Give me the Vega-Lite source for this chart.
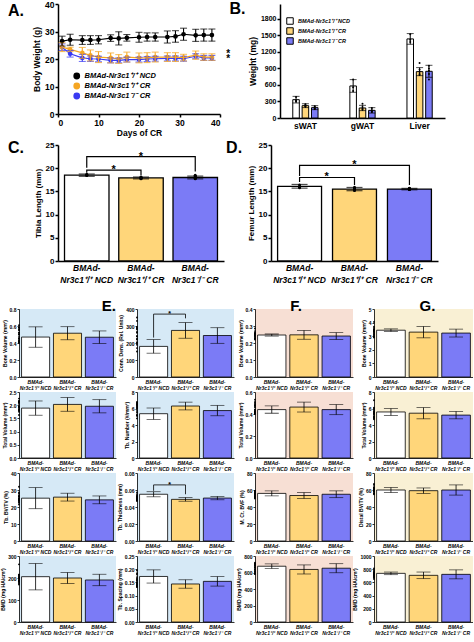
{
"$schema":"https://vega.github.io/schema/vega-lite/v6.json",
"background":"white",
"padding":{"left":0,"top":0,"right":0,"bottom":0},
"config":{
 "font":"Liberation Sans",
 "view":{"stroke":null},
 "axis":{"grid":false,"domainColor":"black","tickColor":"black","labelColor":"black","titleColor":"black","labelFontWeight":"bold","titleFontWeight":"bold","labelFont":"Liberation Sans","titleFont":"Liberation Sans"},
 "axisY":{"labelFontSize":5,"titleFontSize":5,"tickSize":2,"tickWidth":0.8,"domainWidth":0.8,"labelPadding":1,"titlePadding":2,"labelOverlap":false},
 "axisX":{"labelFontSize":5,"labelFontStyle":"italic","ticks":false,"labelAngle":0,"domainWidth":0.8,"labelPadding":2,"labelLineHeight":6},
 "title":{"font":"Liberation Sans","fontWeight":"bold","color":"black"},
 "legend":{"labelFont":"Liberation Sans","labelFontWeight":"bold","labelFontStyle":"italic","labelColor":"black"}
},
"datasets":{
 "wt":[
  {"d":1,"g":"CRko","w":24.3,"e":1.2},{"d":3,"g":"CRko","w":21.9,"e":1.2},{"d":6,"g":"CRko","w":20.4,"e":1.3},{"d":8,"g":"CRko","w":20.1,"e":1.0},{"d":10,"g":"CRko","w":20.0,"e":1.0},{"d":13,"g":"CRko","w":19.5,"e":0.9},{"d":15,"g":"CRko","w":19.5,"e":0.9},{"d":17,"g":"CRko","w":19.8,"e":0.9},{"d":20,"g":"CRko","w":19.8,"e":0.9},{"d":22,"g":"CRko","w":20.0,"e":0.9},{"d":24,"g":"CRko","w":20.1,"e":0.9},{"d":27,"g":"CRko","w":20.2,"e":0.9},{"d":29,"g":"CRko","w":20.2,"e":0.9},{"d":31,"g":"CRko","w":20.1,"e":0.9},{"d":34,"g":"CRko","w":21.0,"e":0.9},{"d":36,"g":"CRko","w":20.4,"e":0.9},{"d":38,"g":"CRko","w":20.4,"e":0.9},
  {"d":1,"g":"CRwt","w":24.3,"e":1.6},{"d":3,"g":"CRwt","w":23.5,"e":0.8},{"d":6,"g":"CRwt","w":22.2,"e":2.0},{"d":8,"g":"CRwt","w":21.3,"e":2.0},{"d":10,"g":"CRwt","w":20.7,"e":2.0},{"d":13,"g":"CRwt","w":20.4,"e":1.8},{"d":15,"g":"CRwt","w":20.0,"e":1.6},{"d":17,"g":"CRwt","w":20.7,"e":1.8},{"d":20,"g":"CRwt","w":20.4,"e":1.8},{"d":22,"g":"CRwt","w":20.5,"e":1.8},{"d":24,"g":"CRwt","w":20.7,"e":1.8},{"d":27,"g":"CRwt","w":20.7,"e":1.6},{"d":29,"g":"CRwt","w":20.7,"e":1.6},{"d":31,"g":"CRwt","w":20.5,"e":1.2},{"d":34,"g":"CRwt","w":21.4,"e":1.5},{"d":36,"g":"CRwt","w":20.7,"e":1.2},{"d":38,"g":"CRwt","w":20.7,"e":1.2},
  {"d":1,"g":"NCD","w":26.5,"e":1.8},{"d":3,"g":"NCD","w":27.0,"e":2.0},{"d":6,"g":"NCD","w":26.9,"e":1.6},{"d":8,"g":"NCD","w":26.9,"e":1.6},{"d":10,"g":"NCD","w":27.0,"e":1.5},{"d":13,"g":"NCD","w":27.6,"e":1.2},{"d":15,"g":"NCD","w":27.5,"e":2.4},{"d":17,"g":"NCD","w":27.7,"e":1.2},{"d":20,"g":"NCD","w":27.9,"e":1.8},{"d":22,"g":"NCD","w":28.0,"e":1.5},{"d":24,"g":"NCD","w":28.0,"e":1.5},{"d":27,"g":"NCD","w":28.0,"e":2.2},{"d":29,"g":"NCD","w":28.2,"e":2.1},{"d":31,"g":"NCD","w":29.0,"e":2.2},{"d":34,"g":"NCD","w":28.6,"e":2.2},{"d":36,"g":"NCD","w":28.7,"e":2.2},{"d":38,"g":"NCD","w":28.7,"e":2.2}
 ],
 "bw":[
  {"t":"sWAT","g":"NCD","v":333,"e":60},{"t":"sWAT","g":"CRwt","v":224,"e":35},{"t":"sWAT","g":"CRko","v":188,"e":36},
  {"t":"gWAT","g":"NCD","v":582,"e":115},{"t":"gWAT","g":"CRwt","v":182,"e":48},{"t":"gWAT","g":"CRko","v":139,"e":49},
  {"t":"Liver","g":"NCD","v":1436,"e":97},{"t":"Liver","g":"CRwt","v":842,"e":73},{"t":"Liver","g":"CRko","v":848,"e":109}
 ],
 "bwp":[
  {"t":"sWAT","g":"NCD","v":380},{"t":"sWAT","g":"NCD","v":320},{"t":"sWAT","g":"NCD","v":300},
  {"t":"sWAT","g":"CRwt","v":250},{"t":"sWAT","g":"CRwt","v":230},{"t":"sWAT","g":"CRwt","v":215},{"t":"sWAT","g":"CRwt","v":205},
  {"t":"sWAT","g":"CRko","v":215},{"t":"sWAT","g":"CRko","v":195},{"t":"sWAT","g":"CRko","v":170},{"t":"sWAT","g":"CRko","v":165},
  {"t":"gWAT","g":"NCD","v":700},{"t":"gWAT","g":"NCD","v":560},{"t":"gWAT","g":"NCD","v":490},
  {"t":"gWAT","g":"CRwt","v":260},{"t":"gWAT","g":"CRwt","v":200},{"t":"gWAT","g":"CRwt","v":170},{"t":"gWAT","g":"CRwt","v":150},
  {"t":"gWAT","g":"CRko","v":180},{"t":"gWAT","g":"CRko","v":140},{"t":"gWAT","g":"CRko","v":120},{"t":"gWAT","g":"CRko","v":110},
  {"t":"Liver","g":"NCD","v":1520},{"t":"Liver","g":"NCD","v":1420},{"t":"Liver","g":"NCD","v":1380},
  {"t":"Liver","g":"CRwt","v":1000},{"t":"Liver","g":"CRwt","v":880},{"t":"Liver","g":"CRwt","v":840},{"t":"Liver","g":"CRwt","v":800},{"t":"Liver","g":"CRwt","v":780},
  {"t":"Liver","g":"CRko","v":950},{"t":"Liver","g":"CRko","v":900},{"t":"Liver","g":"CRko","v":860},{"t":"Liver","g":"CRko","v":800},{"t":"Liver","g":"CRko","v":700}
 ],
 "bars":[
  {"p":"C","g":"NCD","v":18.5,"e":0.25},{"p":"C","g":"CRwt","v":17.9,"e":0.2},{"p":"C","g":"CRko","v":18.0,"e":0.3},
  {"p":"D","g":"NCD","v":16.1,"e":0.4},{"p":"D","g":"CRwt","v":15.5,"e":0.35},{"p":"D","g":"CRko","v":15.5,"e":0.15},
  {"p":"e1a","g":"NCD","v":0.47,"e":0.12},{"p":"e1a","g":"CRwt","v":0.515,"e":0.077},{"p":"e1a","g":"CRko","v":0.468,"e":0.074},
  {"p":"e2a","g":"NCD","v":180,"e":40},{"p":"e2a","g":"CRwt","v":274,"e":46},{"p":"e2a","g":"CRko","v":244,"e":46},
  {"p":"e1b","g":"NCD","v":1.89,"e":0.27},{"p":"e1b","g":"CRwt","v":2.03,"e":0.26},{"p":"e1b","g":"CRko","v":1.96,"e":0.25},
  {"p":"e2b","g":"NCD","v":5.37,"e":0.69},{"p":"e2b","g":"CRwt","v":6.3,"e":0.47},{"p":"e2b","g":"CRko","v":5.75,"e":0.63},
  {"p":"e1c","g":"NCD","v":25.2,"e":6.2},{"p":"e1c","g":"CRwt","v":25.8,"e":2.3},{"p":"e1c","g":"CRko","v":24.2,"e":2.3},
  {"p":"e2c","g":"NCD","v":0.055,"e":0.003},{"p":"e2c","g":"CRwt","v":0.049,"e":0.0022},{"p":"e2c","g":"CRko","v":0.0505,"e":0.002},
  {"p":"e1d","g":"NCD","v":206,"e":60},{"p":"e1d","g":"CRwt","v":200,"e":25},{"p":"e1d","g":"CRko","v":191,"e":26},
  {"p":"e2d","g":"NCD","v":0.1725,"e":0.025},{"p":"e2d","g":"CRwt","v":0.144,"e":0.016},{"p":"e2d","g":"CRko","v":0.154,"e":0.018},
  {"p":"fa","g":"NCD","v":0.247,"e":0.006},{"p":"fa","g":"CRwt","v":0.248,"e":0.026},{"p":"fa","g":"CRko","v":0.241,"e":0.02},
  {"p":"fb","g":"NCD","v":0.44,"e":0.033},{"p":"fb","g":"CRwt","v":0.463,"e":0.045},{"p":"fb","g":"CRko","v":0.44,"e":0.046},
  {"p":"fc","g":"NCD","v":56,"e":3},{"p":"fc","g":"CRwt","v":53.5,"e":3.5},{"p":"fc","g":"CRko","v":55,"e":4},
  {"p":"fd","g":"NCD","v":676,"e":28},{"p":"fd","g":"CRwt","v":637,"e":55},{"p":"fd","g":"CRko","v":652,"e":55},
  {"p":"ga","g":"NCD","v":3.44,"e":0.1},{"p":"ga","g":"CRwt","v":3.3,"e":0.42},{"p":"ga","g":"CRko","v":3.23,"e":0.29},
  {"p":"gb","g":"NCD","v":5.58,"e":0.42},{"p":"gb","g":"CRwt","v":5.43,"e":0.68},{"p":"gb","g":"CRko","v":5.2,"e":0.45},
  {"p":"gc","g":"NCD","v":60,"e":3},{"p":"gc","g":"CRwt","v":59.2,"e":3.2},{"p":"gc","g":"CRko","v":60,"e":6},
  {"p":"gd","g":"NCD","v":737,"e":20},{"p":"gd","g":"CRwt","v":707,"e":50},{"p":"gd","g":"CRko","v":722,"e":68}
 ],
 "pts":[
  {"p":"C","g":"NCD","r":3,"v":18.7},{"p":"C","g":"NCD","r":4,"v":18.5},{"p":"C","g":"NCD","r":5,"v":18.4},
  {"p":"C","g":"CRwt","r":1,"v":17.8},{"p":"C","g":"CRwt","r":2,"v":18.0},{"p":"C","g":"CRwt","r":3,"v":17.9},{"p":"C","g":"CRwt","r":4,"v":18.1},{"p":"C","g":"CRwt","r":5,"v":17.7},{"p":"C","g":"CRwt","r":6,"v":17.9},{"p":"C","g":"CRwt","r":7,"v":18.0},
  {"p":"C","g":"CRko","r":1,"v":18.5},{"p":"C","g":"CRko","r":2,"v":18.2},{"p":"C","g":"CRko","r":3,"v":17.9},{"p":"C","g":"CRko","r":4,"v":17.7},{"p":"C","g":"CRko","r":5,"v":18.0},{"p":"C","g":"CRko","r":6,"v":18.3},{"p":"C","g":"CRko","r":7,"v":17.8},
  {"p":"D","g":"NCD","r":3,"v":16.4},{"p":"D","g":"NCD","r":4,"v":16.0},{"p":"D","g":"NCD","r":5,"v":15.8},
  {"p":"D","g":"CRwt","r":1,"v":15.9},{"p":"D","g":"CRwt","r":2,"v":15.6},{"p":"D","g":"CRwt","r":3,"v":15.4},{"p":"D","g":"CRwt","r":4,"v":15.2},{"p":"D","g":"CRwt","r":5,"v":15.5},{"p":"D","g":"CRwt","r":6,"v":15.7},{"p":"D","g":"CRwt","r":7,"v":15.3},
  {"p":"D","g":"CRko","r":1,"v":15.6},{"p":"D","g":"CRko","r":2,"v":15.5},{"p":"D","g":"CRko","r":3,"v":15.4},{"p":"D","g":"CRko","r":4,"v":15.6},{"p":"D","g":"CRko","r":5,"v":15.5},{"p":"D","g":"CRko","r":6,"v":15.4},{"p":"D","g":"CRko","r":7,"v":15.7},
  {"p":"e1a","g":"NCD","r":2,"v":0.61},{"p":"e1a","g":"NCD","r":4,"v":0.47},{"p":"e1a","g":"NCD","r":6,"v":0.40},
  {"p":"e1a","g":"CRwt","r":1,"v":0.58},{"p":"e1a","g":"CRwt","r":2,"v":0.56},{"p":"e1a","g":"CRwt","r":3,"v":0.52},{"p":"e1a","g":"CRwt","r":4,"v":0.50},{"p":"e1a","g":"CRwt","r":5,"v":0.45},{"p":"e1a","g":"CRwt","r":6,"v":0.42},{"p":"e1a","g":"CRwt","r":7,"v":0.55},
  {"p":"e1a","g":"CRko","r":1,"v":0.58},{"p":"e1a","g":"CRko","r":2,"v":0.52},{"p":"e1a","g":"CRko","r":3,"v":0.45},{"p":"e1a","g":"CRko","r":4,"v":0.42},{"p":"e1a","g":"CRko","r":5,"v":0.41},{"p":"e1a","g":"CRko","r":6,"v":0.43},{"p":"e1a","g":"CRko","r":7,"v":0.50},
  {"p":"e2a","g":"NCD","r":2,"v":220},{"p":"e2a","g":"NCD","r":4,"v":150},{"p":"e2a","g":"NCD","r":6,"v":170},
  {"p":"e2a","g":"CRwt","r":1,"v":350},{"p":"e2a","g":"CRwt","r":2,"v":295},{"p":"e2a","g":"CRwt","r":3,"v":285},{"p":"e2a","g":"CRwt","r":4,"v":265},{"p":"e2a","g":"CRwt","r":5,"v":240},{"p":"e2a","g":"CRwt","r":6,"v":190},{"p":"e2a","g":"CRwt","r":7,"v":290},
  {"p":"e2a","g":"CRko","r":1,"v":330},{"p":"e2a","g":"CRko","r":2,"v":280},{"p":"e2a","g":"CRko","r":3,"v":260},{"p":"e2a","g":"CRko","r":4,"v":240},{"p":"e2a","g":"CRko","r":5,"v":225},{"p":"e2a","g":"CRko","r":6,"v":205},{"p":"e2a","g":"CRko","r":7,"v":200},
  {"p":"e1b","g":"NCD","r":2,"v":2.12},{"p":"e1b","g":"NCD","r":4,"v":1.90},{"p":"e1b","g":"NCD","r":6,"v":1.63},
  {"p":"e1b","g":"CRwt","r":1,"v":2.25},{"p":"e1b","g":"CRwt","r":2,"v":2.15},{"p":"e1b","g":"CRwt","r":3,"v":2.05},{"p":"e1b","g":"CRwt","r":4,"v":1.95},{"p":"e1b","g":"CRwt","r":5,"v":1.90},{"p":"e1b","g":"CRwt","r":6,"v":1.80},{"p":"e1b","g":"CRwt","r":7,"v":2.10},
  {"p":"e1b","g":"CRko","r":1,"v":2.15},{"p":"e1b","g":"CRko","r":2,"v":2.15},{"p":"e1b","g":"CRko","r":3,"v":2.10},{"p":"e1b","g":"CRko","r":4,"v":1.95},{"p":"e1b","g":"CRko","r":5,"v":1.85},{"p":"e1b","g":"CRko","r":6,"v":1.75},{"p":"e1b","g":"CRko","r":7,"v":1.82},
  {"p":"e2b","g":"NCD","r":2,"v":6.1},{"p":"e2b","g":"NCD","r":4,"v":5.2},{"p":"e2b","g":"NCD","r":6,"v":4.8},
  {"p":"e2b","g":"CRwt","r":1,"v":6.8},{"p":"e2b","g":"CRwt","r":2,"v":6.7},{"p":"e2b","g":"CRwt","r":3,"v":6.6},{"p":"e2b","g":"CRwt","r":4,"v":6.5},{"p":"e2b","g":"CRwt","r":5,"v":6.3},{"p":"e2b","g":"CRwt","r":6,"v":6.2},{"p":"e2b","g":"CRwt","r":7,"v":5.2},
  {"p":"e2b","g":"CRko","r":1,"v":6.5},{"p":"e2b","g":"CRko","r":2,"v":6.4},{"p":"e2b","g":"CRko","r":3,"v":6.0},{"p":"e2b","g":"CRko","r":4,"v":5.7},{"p":"e2b","g":"CRko","r":5,"v":5.5},{"p":"e2b","g":"CRko","r":6,"v":5.2},{"p":"e2b","g":"CRko","r":7,"v":5.1},
  {"p":"e1c","g":"NCD","r":2,"v":31.9},{"p":"e1c","g":"NCD","r":4,"v":24.5},{"p":"e1c","g":"NCD","r":6,"v":21.5},
  {"p":"e1c","g":"CRwt","r":1,"v":28.5},{"p":"e1c","g":"CRwt","r":2,"v":28},{"p":"e1c","g":"CRwt","r":3,"v":27},{"p":"e1c","g":"CRwt","r":4,"v":26},{"p":"e1c","g":"CRwt","r":5,"v":25},{"p":"e1c","g":"CRwt","r":6,"v":24},{"p":"e1c","g":"CRwt","r":7,"v":23.5},
  {"p":"e1c","g":"CRko","r":1,"v":26.5},{"p":"e1c","g":"CRko","r":2,"v":26},{"p":"e1c","g":"CRko","r":3,"v":25},{"p":"e1c","g":"CRko","r":4,"v":24.5},{"p":"e1c","g":"CRko","r":5,"v":24},{"p":"e1c","g":"CRko","r":6,"v":23},{"p":"e1c","g":"CRko","r":7,"v":22.5},
  {"p":"e2c","g":"NCD","r":2,"v":0.057},{"p":"e2c","g":"NCD","r":4,"v":0.055},{"p":"e2c","g":"NCD","r":6,"v":0.053},
  {"p":"e2c","g":"CRwt","r":1,"v":0.052},{"p":"e2c","g":"CRwt","r":2,"v":0.051},{"p":"e2c","g":"CRwt","r":3,"v":0.050},{"p":"e2c","g":"CRwt","r":4,"v":0.049},{"p":"e2c","g":"CRwt","r":5,"v":0.048},{"p":"e2c","g":"CRwt","r":6,"v":0.047},{"p":"e2c","g":"CRwt","r":7,"v":0.050},
  {"p":"e2c","g":"CRko","r":1,"v":0.053},{"p":"e2c","g":"CRko","r":2,"v":0.052},{"p":"e2c","g":"CRko","r":3,"v":0.051},{"p":"e2c","g":"CRko","r":4,"v":0.050},{"p":"e2c","g":"CRko","r":5,"v":0.049},{"p":"e2c","g":"CRko","r":6,"v":0.052},{"p":"e2c","g":"CRko","r":7,"v":0.048},
  {"p":"e1d","g":"NCD","r":2,"v":262},{"p":"e1d","g":"NCD","r":4,"v":185},{"p":"e1d","g":"NCD","r":6,"v":175},
  {"p":"e1d","g":"CRwt","r":1,"v":215},{"p":"e1d","g":"CRwt","r":2,"v":210},{"p":"e1d","g":"CRwt","r":3,"v":205},{"p":"e1d","g":"CRwt","r":4,"v":200},{"p":"e1d","g":"CRwt","r":5,"v":195},{"p":"e1d","g":"CRwt","r":6,"v":190},{"p":"e1d","g":"CRwt","r":7,"v":185},
  {"p":"e1d","g":"CRko","r":1,"v":215},{"p":"e1d","g":"CRko","r":2,"v":205},{"p":"e1d","g":"CRko","r":3,"v":200},{"p":"e1d","g":"CRko","r":4,"v":190},{"p":"e1d","g":"CRko","r":5,"v":185},{"p":"e1d","g":"CRko","r":6,"v":180},{"p":"e1d","g":"CRko","r":7,"v":170},
  {"p":"e2d","g":"NCD","r":2,"v":0.195},{"p":"e2d","g":"NCD","r":4,"v":0.165},{"p":"e2d","g":"NCD","r":6,"v":0.158},
  {"p":"e2d","g":"CRwt","r":1,"v":0.18},{"p":"e2d","g":"CRwt","r":2,"v":0.155},{"p":"e2d","g":"CRwt","r":3,"v":0.148},{"p":"e2d","g":"CRwt","r":4,"v":0.142},{"p":"e2d","g":"CRwt","r":5,"v":0.138},{"p":"e2d","g":"CRwt","r":6,"v":0.135},{"p":"e2d","g":"CRwt","r":7,"v":0.132},
  {"p":"e2d","g":"CRko","r":1,"v":0.185},{"p":"e2d","g":"CRko","r":2,"v":0.17},{"p":"e2d","g":"CRko","r":3,"v":0.16},{"p":"e2d","g":"CRko","r":4,"v":0.15},{"p":"e2d","g":"CRko","r":5,"v":0.145},{"p":"e2d","g":"CRko","r":6,"v":0.14},{"p":"e2d","g":"CRko","r":7,"v":0.135},
  {"p":"fa","g":"NCD","r":2,"v":0.252},{"p":"fa","g":"NCD","r":4,"v":0.248},{"p":"fa","g":"NCD","r":6,"v":0.244},
  {"p":"fa","g":"CRwt","r":1,"v":0.285},{"p":"fa","g":"CRwt","r":2,"v":0.27},{"p":"fa","g":"CRwt","r":3,"v":0.255},{"p":"fa","g":"CRwt","r":4,"v":0.25},{"p":"fa","g":"CRwt","r":5,"v":0.24},{"p":"fa","g":"CRwt","r":6,"v":0.23},{"p":"fa","g":"CRwt","r":7,"v":0.225},
  {"p":"fa","g":"CRko","r":1,"v":0.26},{"p":"fa","g":"CRko","r":2,"v":0.258},{"p":"fa","g":"CRko","r":3,"v":0.25},{"p":"fa","g":"CRko","r":4,"v":0.245},{"p":"fa","g":"CRko","r":5,"v":0.235},{"p":"fa","g":"CRko","r":6,"v":0.225},{"p":"fa","g":"CRko","r":7,"v":0.22},
  {"p":"fb","g":"NCD","r":2,"v":0.48},{"p":"fb","g":"NCD","r":4,"v":0.43},{"p":"fb","g":"NCD","r":6,"v":0.41},
  {"p":"fb","g":"CRwt","r":1,"v":0.53},{"p":"fb","g":"CRwt","r":2,"v":0.51},{"p":"fb","g":"CRwt","r":3,"v":0.49},{"p":"fb","g":"CRwt","r":4,"v":0.47},{"p":"fb","g":"CRwt","r":5,"v":0.44},{"p":"fb","g":"CRwt","r":6,"v":0.42},{"p":"fb","g":"CRwt","r":7,"v":0.41},
  {"p":"fb","g":"CRko","r":1,"v":0.50},{"p":"fb","g":"CRko","r":2,"v":0.48},{"p":"fb","g":"CRko","r":3,"v":0.46},{"p":"fb","g":"CRko","r":4,"v":0.44},{"p":"fb","g":"CRko","r":5,"v":0.42},{"p":"fb","g":"CRko","r":6,"v":0.41},{"p":"fb","g":"CRko","r":7,"v":0.40},
  {"p":"fc","g":"NCD","r":2,"v":59},{"p":"fc","g":"NCD","r":4,"v":56},{"p":"fc","g":"NCD","r":6,"v":54},
  {"p":"fc","g":"CRwt","r":1,"v":57},{"p":"fc","g":"CRwt","r":2,"v":56},{"p":"fc","g":"CRwt","r":3,"v":55},{"p":"fc","g":"CRwt","r":4,"v":53},{"p":"fc","g":"CRwt","r":5,"v":52},{"p":"fc","g":"CRwt","r":6,"v":51},{"p":"fc","g":"CRwt","r":7,"v":50},
  {"p":"fc","g":"CRko","r":1,"v":59},{"p":"fc","g":"CRko","r":2,"v":58},{"p":"fc","g":"CRko","r":3,"v":57},{"p":"fc","g":"CRko","r":4,"v":55},{"p":"fc","g":"CRko","r":5,"v":53},{"p":"fc","g":"CRko","r":6,"v":52},{"p":"fc","g":"CRko","r":7,"v":51},
  {"p":"fd","g":"NCD","r":2,"v":710},{"p":"fd","g":"NCD","r":4,"v":680},{"p":"fd","g":"NCD","r":6,"v":665},
  {"p":"fd","g":"CRwt","r":1,"v":700},{"p":"fd","g":"CRwt","r":2,"v":690},{"p":"fd","g":"CRwt","r":3,"v":660},{"p":"fd","g":"CRwt","r":4,"v":640},{"p":"fd","g":"CRwt","r":5,"v":620},{"p":"fd","g":"CRwt","r":6,"v":600},{"p":"fd","g":"CRwt","r":7,"v":580},
  {"p":"fd","g":"CRko","r":1,"v":720},{"p":"fd","g":"CRko","r":2,"v":705},{"p":"fd","g":"CRko","r":3,"v":685},{"p":"fd","g":"CRko","r":4,"v":660},{"p":"fd","g":"CRko","r":5,"v":640},{"p":"fd","g":"CRko","r":6,"v":615},{"p":"fd","g":"CRko","r":7,"v":590},
  {"p":"ga","g":"NCD","r":2,"v":3.5},{"p":"ga","g":"NCD","r":4,"v":3.45},{"p":"ga","g":"NCD","r":6,"v":3.4},
  {"p":"ga","g":"CRwt","r":1,"v":4.05},{"p":"ga","g":"CRwt","r":2,"v":3.6},{"p":"ga","g":"CRwt","r":3,"v":3.35},{"p":"ga","g":"CRwt","r":4,"v":3.2},{"p":"ga","g":"CRwt","r":5,"v":3.1},{"p":"ga","g":"CRwt","r":6,"v":3.0},{"p":"ga","g":"CRwt","r":7,"v":2.9},
  {"p":"ga","g":"CRko","r":1,"v":3.7},{"p":"ga","g":"CRko","r":2,"v":3.5},{"p":"ga","g":"CRko","r":3,"v":3.35},{"p":"ga","g":"CRko","r":4,"v":3.25},{"p":"ga","g":"CRko","r":5,"v":3.1},{"p":"ga","g":"CRko","r":6,"v":3.0},{"p":"ga","g":"CRko","r":7,"v":2.95},
  {"p":"gb","g":"NCD","r":2,"v":6.1},{"p":"gb","g":"NCD","r":4,"v":5.5},{"p":"gb","g":"NCD","r":6,"v":5.4},
  {"p":"gb","g":"CRwt","r":1,"v":7.0},{"p":"gb","g":"CRwt","r":2,"v":6.0},{"p":"gb","g":"CRwt","r":3,"v":5.6},{"p":"gb","g":"CRwt","r":4,"v":5.3},{"p":"gb","g":"CRwt","r":5,"v":5.0},{"p":"gb","g":"CRwt","r":6,"v":4.9},{"p":"gb","g":"CRwt","r":7,"v":4.8},
  {"p":"gb","g":"CRko","r":1,"v":5.8},{"p":"gb","g":"CRko","r":2,"v":5.6},{"p":"gb","g":"CRko","r":3,"v":5.4},{"p":"gb","g":"CRko","r":4,"v":5.2},{"p":"gb","g":"CRko","r":5,"v":5.0},{"p":"gb","g":"CRko","r":6,"v":4.9},{"p":"gb","g":"CRko","r":7,"v":4.7},
  {"p":"gc","g":"NCD","r":2,"v":63},{"p":"gc","g":"NCD","r":4,"v":61},{"p":"gc","g":"NCD","r":6,"v":59},
  {"p":"gc","g":"CRwt","r":1,"v":63},{"p":"gc","g":"CRwt","r":2,"v":62},{"p":"gc","g":"CRwt","r":3,"v":61},{"p":"gc","g":"CRwt","r":4,"v":60},{"p":"gc","g":"CRwt","r":5,"v":59},{"p":"gc","g":"CRwt","r":6,"v":58},{"p":"gc","g":"CRwt","r":7,"v":56},
  {"p":"gc","g":"CRko","r":1,"v":67},{"p":"gc","g":"CRko","r":2,"v":66},{"p":"gc","g":"CRko","r":3,"v":63},{"p":"gc","g":"CRko","r":4,"v":60},{"p":"gc","g":"CRko","r":5,"v":58},{"p":"gc","g":"CRko","r":6,"v":56},{"p":"gc","g":"CRko","r":7,"v":55},
  {"p":"gd","g":"NCD","r":2,"v":755},{"p":"gd","g":"NCD","r":4,"v":740},{"p":"gd","g":"NCD","r":6,"v":730},
  {"p":"gd","g":"CRwt","r":1,"v":760},{"p":"gd","g":"CRwt","r":2,"v":750},{"p":"gd","g":"CRwt","r":3,"v":720},{"p":"gd","g":"CRwt","r":4,"v":700},{"p":"gd","g":"CRwt","r":5,"v":690},{"p":"gd","g":"CRwt","r":6,"v":680},{"p":"gd","g":"CRwt","r":7,"v":665},
  {"p":"gd","g":"CRko","r":1,"v":810},{"p":"gd","g":"CRko","r":2,"v":780},{"p":"gd","g":"CRko","r":3,"v":745},{"p":"gd","g":"CRko","r":4,"v":720},{"p":"gd","g":"CRko","r":5,"v":700},{"p":"gd","g":"CRko","r":6,"v":680},{"p":"gd","g":"CRko","r":7,"v":650}
 ],
 "br":[
  {"p":"C","k":"Cl","o":1,"g":"NCD","v":20.1},{"p":"C","k":"Cl","o":2,"g":"NCD","v":22.5},{"p":"C","k":"Cl","o":3,"g":"CRko","v":22.5},{"p":"C","k":"Cl","o":4,"g":"CRko","v":19.3},
  {"p":"C","k":"Cs","o":1,"g":"NCD","v":19.0},{"p":"C","k":"Cs","o":2,"g":"NCD","v":19.6},{"p":"C","k":"Cs","o":3,"g":"CRwt","v":19.6},{"p":"C","k":"Cs","o":4,"g":"CRwt","v":18.5},
  {"p":"D","k":"Dl","o":1,"g":"NCD","v":18.3},{"p":"D","k":"Dl","o":2,"g":"NCD","v":20.6},{"p":"D","k":"Dl","o":3,"g":"CRko","v":20.6},{"p":"D","k":"Dl","o":4,"g":"CRko","v":16.4},
  {"p":"D","k":"Ds","o":1,"g":"NCD","v":17.0},{"p":"D","k":"Ds","o":2,"g":"NCD","v":18.0},{"p":"D","k":"Ds","o":3,"g":"CRwt","v":18.0},{"p":"D","k":"Ds","o":4,"g":"CRwt","v":16.4},
  {"p":"e2a","k":"a","o":1,"g":"NCD","v":232},{"p":"e2a","k":"a","o":2,"g":"NCD","v":370},{"p":"e2a","k":"a","o":3,"g":"CRwt","v":370},{"p":"e2a","k":"a","o":4,"g":"CRwt","v":345},
  {"p":"e2c","k":"c","o":1,"g":"NCD","v":0.059},{"p":"e2c","k":"c","o":2,"g":"NCD","v":0.066},{"p":"e2c","k":"c","o":3,"g":"CRwt","v":0.066},{"p":"e2c","k":"c","o":4,"g":"CRwt","v":0.055}
 ],
 "st":[
  {"p":"C","k":"s","g":"NCD","v":19.6},{"p":"C","k":"l","g":"CRwt","v":22.5},
  {"p":"D","k":"s","g":"NCD","v":18.0},{"p":"D","k":"l","g":"CRwt","v":20.6},
  {"p":"e2a","k":"s","g":"NCD","v":370},{"p":"e2c","k":"s","g":"NCD","v":0.066}
 ]
},
"resolve":{"scale":{"color":"independent","fill":"independent"},"legend":{"color":"independent","fill":"independent"}},
"vconcat":[
 {"resolve":{"scale":{"color":"independent","fill":"independent"},"legend":{"color":"independent","fill":"independent"}},
  "vconcat":[
  {"resolve":{"scale":{"color":"independent","fill":"independent"},"legend":{"color":"independent","fill":"independent"}},
   "hconcat":[
   {"width":201,"height":110,
    "title":{"text":"A.","anchor":"start","frame":"bounds","fontSize":16,"offset":-19,"dx":-11},
    "data":{"name":"wt"},
    "encoding":{
     "x":{"field":"d","type":"quantitative","scale":{"domain":[0,40],"range":[39,201]},"axis":{"values":[0,10,20,30,40],"title":"Days of CR","labelFontSize":8.5,"titleFontSize":8.5,"labelFontStyle":"normal","ticks":true,"tickSize":3,"tickWidth":1.5,"domainWidth":1.5,"labelPadding":1,"titlePadding":2}},
     "y":{"field":"w","type":"quantitative","scale":{"domain":[0,40]},"axis":{"offset":-39,"values":[0,10,20,30,40],"title":"Body Weight (g)","labelFontSize":8.5,"titleFontSize":8.5,"tickSize":3,"tickWidth":1.5,"domainWidth":1.5,"labelPadding":1,"titlePadding":3}},
     "color":{"field":"g","type":"nominal","scale":{"domain":["NCD","CRwt","CRko"],"range":["#000000","#f5a623","#3a3af2"]},"legend":{"title":null,"orient":"none","legendX":54,"legendY":67,"labelFontSize":7.5,"symbolType":"circle","symbolSize":28,"rowPadding":0,"clipHeight":10,"labelExpr":"datum.value == 'NCD' ? 'BMAd-Nr3c1⁺/⁺ NCD' : datum.value == 'CRwt' ? 'BMAd-Nr3c1⁺/⁺ CR' : 'BMAd-Nr3c1⁻/⁻ CR'"}}
    },
    "layer":[
     {"mark":{"type":"circle","size":22,"opacity":1}},
     {"mark":{"type":"line","strokeWidth":1.2}},
     {"mark":{"type":"errorbar","ticks":true,"size":7,"thickness":1.1},"encoding":{"yError":{"field":"e"}}},
     {"data":{"values":[{"d":42,"w":22.0},{"d":42,"w":19.9}]},"mark":{"type":"text","text":"*","fontSize":10,"fontWeight":"bold","baseline":"middle"},"encoding":{"color":{"value":"black"}}}
    ]},
   {"width":165,"height":114,
    "title":{"text":"B.","anchor":"start","frame":"bounds","fontSize":16,"offset":-13,"dx":-19},
    "data":{"name":"bw"},
    "encoding":{
     "x":{"field":"t","type":"nominal","scale":{"domain":["sWAT","gWAT","Liver"],"paddingInner":0.23,"paddingOuter":0.06},"axis":{"title":null,"labelFontSize":8.5,"labelFontStyle":"normal","domainWidth":1.5,"labelPadding":3}},
     "xOffset":{"field":"g","type":"nominal","scale":{"domain":["NCD","CRwt","CRko"],"paddingInner":0.3}},
     "y":{"field":"v","type":"quantitative","title":"Weight (mg)","scale":{"domain":[0,2070]},"axis":{"values":[0,300,600,900,1200,1500,1800],"format":"d","labelFontSize":7,"titleFontSize":8.5,"tickSize":3,"tickWidth":1.5,"domainWidth":1.5,"labelPadding":1,"titlePadding":3}}
    },
    "layer":[
     {"mark":{"type":"bar","stroke":"black","strokeWidth":1},"encoding":{"fill":{"field":"g","type":"nominal","scale":{"domain":["NCD","CRwt","CRko"],"range":["#ffffff","#ffd67a","#7b7bf6"]},"legend":{"title":null,"orient":"none","legendX":6,"legendY":12,"labelFontSize":5.5,"symbolType":"square","symbolSize":42,"symbolStrokeColor":"black","symbolStrokeWidth":1,"rowPadding":0,"clipHeight":10,"labelExpr":"datum.value == 'NCD' ? 'BMAd-Nr3c1⁺/⁺ NCD' : datum.value == 'CRwt' ? 'BMAd-Nr3c1⁺/⁺ CR' : 'BMAd-Nr3c1⁻/⁻ CR'"}}}},
     {"data":{"name":"bwp"},"mark":{"type":"circle","size":4,"color":"black","opacity":1}},
     {"mark":{"type":"errorbar","ticks":true,"size":7,"thickness":1,"color":"black"},"encoding":{"yError":{"field":"e"}}}
    ]}
  ],"spacing":60,"bounds":"flush"},
  {"hconcat":[
   {"width":205,"height":116,
    "title":{"text":"C.","anchor":"start","frame":"bounds","fontSize":16,"offset":-15,"dx":-11},
    "encoding":{
     "x":{"field":"g","type":"nominal","scale":{"domain":["NCD","CRwt","CRko"],"range":[39,205],"paddingInner":0.18,"paddingOuter":0.12},"axis":{"title":null,"labelExpr":"datum.value == 'NCD' ? ['BMAd-', 'Nr3c1⁺/⁺ NCD'] : datum.value == 'CRwt' ? ['BMAd-', 'Nr3c1⁺/⁺ CR'] : ['BMAd-', 'Nr3c1⁻/⁻ CR']","labelFontSize":8.5,"labelLineHeight":12,"labelPadding":2,"domainWidth":1.5}},
     "y":{"field":"v","type":"quantitative","title":"Tibia Length (mm)","scale":{"domain":[0,25]},"axis":{"offset":-39,"values":[0,5,10,15,20,25],"labelFontSize":8,"titleFontSize":8,"tickSize":3,"tickWidth":1.5,"domainWidth":1.5,"labelPadding":1,"titlePadding":3}}
    },
    "layer":[
     {"data":{"name":"bars"},"transform":[{"filter":"datum.p=='C'"}],"mark":{"type":"bar","stroke":"black","strokeWidth":1.3},"encoding":{"fill":{"field":"g","type":"nominal","scale":{"domain":["NCD","CRwt","CRko"],"range":["#ffffff","#ffd67a","#7b7bf6"]},"legend":null}}},
     {"data":{"name":"pts"},"transform":[{"filter":"datum.p=='C'"}],"mark":{"type":"circle","size":9,"color":"black","opacity":1}},
     {"data":{"name":"bars"},"transform":[{"filter":"datum.p=='C'"}],"mark":{"type":"errorbar","ticks":true,"size":16,"thickness":1.2,"color":"black"},"encoding":{"yError":{"field":"e"}}},
     {"data":{"name":"br"},"transform":[{"filter":"datum.p=='C'"}],"mark":{"type":"line","color":"black","strokeWidth":1.2},"encoding":{"detail":{"field":"k","type":"nominal"},"order":{"field":"o","type":"quantitative"}}},
     {"data":{"name":"st"},"transform":[{"filter":"datum.p=='C' && datum.k=='s'"}],"mark":{"type":"text","text":"*","fontSize":11,"fontWeight":"bold","dx":27}},
     {"data":{"name":"st"},"transform":[{"filter":"datum.p=='C' && datum.k=='l'"}],"mark":{"type":"text","text":"*","fontSize":11,"fontWeight":"bold"}}
    ]},
   {"width":167,"height":116,
    "title":{"text":"D.","anchor":"start","frame":"bounds","fontSize":16,"offset":-15,"dx":-21},
    "encoding":{
     "x":{"field":"g","type":"nominal","scale":{"domain":["NCD","CRwt","CRko"],"paddingInner":0.2,"paddingOuter":0.12},"axis":{"title":null,"labelExpr":"datum.value == 'NCD' ? ['BMAd-', 'Nr3c1⁺/⁺ NCD'] : datum.value == 'CRwt' ? ['BMAd-', 'Nr3c1⁺/⁺ CR'] : ['BMAd-', 'Nr3c1⁻/⁻ CR']","labelFontSize":8.5,"labelLineHeight":12,"labelPadding":2,"domainWidth":1.5}},
     "y":{"field":"v","type":"quantitative","title":"Femur Length (mm)","scale":{"domain":[0,25]},"axis":{"values":[0,5,10,15,20,25],"labelFontSize":8,"titleFontSize":8,"tickSize":3,"tickWidth":1.5,"domainWidth":1.5,"labelPadding":1,"titlePadding":3}}
    },
    "layer":[
     {"data":{"name":"bars"},"transform":[{"filter":"datum.p=='D'"}],"mark":{"type":"bar","stroke":"black","strokeWidth":1.3},"encoding":{"fill":{"field":"g","type":"nominal","scale":{"domain":["NCD","CRwt","CRko"],"range":["#ffffff","#ffd67a","#7b7bf6"]},"legend":null}}},
     {"data":{"name":"pts"},"transform":[{"filter":"datum.p=='D'"}],"mark":{"type":"circle","size":9,"color":"black","opacity":1}},
     {"data":{"name":"bars"},"transform":[{"filter":"datum.p=='D'"}],"mark":{"type":"errorbar","ticks":true,"size":16,"thickness":1.2,"color":"black"},"encoding":{"yError":{"field":"e"}}},
     {"data":{"name":"br"},"transform":[{"filter":"datum.p=='D'"}],"mark":{"type":"line","color":"black","strokeWidth":1.2},"encoding":{"detail":{"field":"k","type":"nominal"},"order":{"field":"o","type":"quantitative"}}},
     {"data":{"name":"st"},"transform":[{"filter":"datum.p=='D' && datum.k=='s'"}],"mark":{"type":"text","text":"*","fontSize":11,"fontWeight":"bold","dx":27}},
     {"data":{"name":"st"},"transform":[{"filter":"datum.p=='D' && datum.k=='l'"}],"mark":{"type":"text","text":"*","fontSize":11,"fontWeight":"bold"}}
    ]}
  ],"spacing":47,"bounds":"flush"}
 ],"spacing":3},
 {"vconcat":[
  {"hconcat":[
   {"width":97,"height":68,"view":{"fill":"#d6e9f6"},
    "title":{"text":"E.","anchor":"end","frame":"group","fontSize":15,"offset":-7},
    "encoding":{"x":{"field":"g","type":"nominal","scale":{"domain":["NCD","CRwt","CRko"],"paddingInner":0.12,"paddingOuter":0.08},"axis":{"title":null,"labelExpr":"datum.value == 'NCD' ? ['BMAd-', 'Nr3c1⁺/⁺ NCD'] : datum.value == 'CRwt' ? ['BMAd-', 'Nr3c1⁺/⁺ CR'] : ['BMAd-', 'Nr3c1⁻/⁻ CR']"}},
     "y":{"field":"v","type":"quantitative","title":"Bone Volume (mm³)","scale":{"domain":[0,0.8]},"axis":{"values":[0,0.2,0.4,0.6,0.8],"format":".1f"}}},
    "layer":[
     {"data":{"name":"bars"},"transform":[{"filter":"datum.p=='e1a'"}],"mark":{"type":"bar","stroke":"black","strokeWidth":0.8},"encoding":{"fill":{"field":"g","type":"nominal","scale":{"domain":["NCD","CRwt","CRko"],"range":["#ffffff","#ffd67a","#7b7bf6"]},"legend":null}}},
     {"data":{"name":"pts"},"transform":[{"filter":"datum.p=='e1a'"}],"mark":{"type":"circle","size":3.5,"color":"black","opacity":1},"encoding":{"xOffset":{"field":"r","type":"nominal","scale":{"paddingOuter":1}}}},
     {"data":{"name":"bars"},"transform":[{"filter":"datum.p=='e1a'"}],"mark":{"type":"errorbar","ticks":true,"size":14,"thickness":0.8,"color":"black"},"encoding":{"yError":{"field":"e"}}}
    ]},
   {"width":97,"height":68,"view":{"fill":"#d6e9f6"},
    "encoding":{"x":{"field":"g","type":"nominal","scale":{"domain":["NCD","CRwt","CRko"],"paddingInner":0.12,"paddingOuter":0.08},"axis":{"title":null,"labelExpr":"datum.value == 'NCD' ? ['BMAd-', 'Nr3c1⁺/⁺ NCD'] : datum.value == 'CRwt' ? ['BMAd-', 'Nr3c1⁺/⁺ CR'] : ['BMAd-', 'Nr3c1⁻/⁻ CR']"}},
     "y":{"field":"v","type":"quantitative","title":"Conn. Dens. (Rel. Units)","scale":{"domain":[0,400]},"axis":{"values":[0,100,200,300,400],"format":"d"}}},
    "layer":[
     {"data":{"name":"bars"},"transform":[{"filter":"datum.p=='e2a'"}],"mark":{"type":"bar","stroke":"black","strokeWidth":0.8},"encoding":{"fill":{"field":"g","type":"nominal","scale":{"domain":["NCD","CRwt","CRko"],"range":["#ffffff","#ffd67a","#7b7bf6"]},"legend":null}}},
     {"data":{"name":"pts"},"transform":[{"filter":"datum.p=='e2a'"}],"mark":{"type":"circle","size":3.5,"color":"black","opacity":1},"encoding":{"xOffset":{"field":"r","type":"nominal","scale":{"paddingOuter":1}}}},
     {"data":{"name":"bars"},"transform":[{"filter":"datum.p=='e2a'"}],"mark":{"type":"errorbar","ticks":true,"size":14,"thickness":0.8,"color":"black"},"encoding":{"yError":{"field":"e"}}},
     {"data":{"name":"br"},"transform":[{"filter":"datum.p=='e2a'"}],"mark":{"type":"line","color":"black","strokeWidth":0.8},"encoding":{"detail":{"field":"k","type":"nominal"},"order":{"field":"o","type":"quantitative"}}},
     {"data":{"name":"st"},"transform":[{"filter":"datum.p=='e2a'"}],"mark":{"type":"text","text":"*","fontSize":7,"fontWeight":"bold","dx":16}}
    ]},
   {"width":98,"height":68,"view":{"fill":"#f7dfd4"},
    "title":{"text":"F.","anchor":"middle","frame":"group","fontSize":15,"offset":-7,"dx":-8},
    "encoding":{"x":{"field":"g","type":"nominal","scale":{"domain":["NCD","CRwt","CRko"],"paddingInner":0.12,"paddingOuter":0.08},"axis":{"title":null,"labelExpr":"datum.value == 'NCD' ? ['BMAd-', 'Nr3c1⁺/⁺ NCD'] : datum.value == 'CRwt' ? ['BMAd-', 'Nr3c1⁺/⁺ CR'] : ['BMAd-', 'Nr3c1⁻/⁻ CR']"}},
     "y":{"field":"v","type":"quantitative","title":"Bone Volume (mm³)","scale":{"domain":[0,0.4]},"axis":{"values":[0,0.1,0.2,0.3,0.4],"format":".1f"}}},
    "layer":[
     {"data":{"name":"bars"},"transform":[{"filter":"datum.p=='fa'"}],"mark":{"type":"bar","stroke":"black","strokeWidth":0.8},"encoding":{"fill":{"field":"g","type":"nominal","scale":{"domain":["NCD","CRwt","CRko"],"range":["#ffffff","#ffd67a","#7b7bf6"]},"legend":null}}},
     {"data":{"name":"pts"},"transform":[{"filter":"datum.p=='fa'"}],"mark":{"type":"circle","size":3.5,"color":"black","opacity":1},"encoding":{"xOffset":{"field":"r","type":"nominal","scale":{"paddingOuter":1}}}},
     {"data":{"name":"bars"},"transform":[{"filter":"datum.p=='fa'"}],"mark":{"type":"errorbar","ticks":true,"size":14,"thickness":0.8,"color":"black"},"encoding":{"yError":{"field":"e"}}}
    ]},
   {"width":99,"height":68,"view":{"fill":"#f9f0d4"},
    "title":{"text":"G.","anchor":"middle","frame":"group","fontSize":15,"offset":-7,"dx":4},
    "encoding":{"x":{"field":"g","type":"nominal","scale":{"domain":["NCD","CRwt","CRko"],"paddingInner":0.12,"paddingOuter":0.08},"axis":{"title":null,"labelExpr":"datum.value == 'NCD' ? ['BMAd-', 'Nr3c1⁺/⁺ NCD'] : datum.value == 'CRwt' ? ['BMAd-', 'Nr3c1⁺/⁺ CR'] : ['BMAd-', 'Nr3c1⁻/⁻ CR']"}},
     "y":{"field":"v","type":"quantitative","title":"Bone Volume (mm³)","scale":{"domain":[0,5]},"axis":{"values":[0,1,2,3,4,5],"format":"d"}}},
    "layer":[
     {"data":{"name":"bars"},"transform":[{"filter":"datum.p=='ga'"}],"mark":{"type":"bar","stroke":"black","strokeWidth":0.8},"encoding":{"fill":{"field":"g","type":"nominal","scale":{"domain":["NCD","CRwt","CRko"],"range":["#ffffff","#ffd67a","#7b7bf6"]},"legend":null}}},
     {"data":{"name":"pts"},"transform":[{"filter":"datum.p=='ga'"}],"mark":{"type":"circle","size":3.5,"color":"black","opacity":1},"encoding":{"xOffset":{"field":"r","type":"nominal","scale":{"paddingOuter":1}}}},
     {"data":{"name":"bars"},"transform":[{"filter":"datum.p=='ga'"}],"mark":{"type":"errorbar","ticks":true,"size":14,"thickness":0.8,"color":"black"},"encoding":{"yError":{"field":"e"}}}
    ]}
  ],"spacing":21,"bounds":"flush"},
  {"hconcat":[
   {"width":97,"height":66,"view":{"fill":"#d6e9f6"},
    "encoding":{"x":{"field":"g","type":"nominal","scale":{"domain":["NCD","CRwt","CRko"],"paddingInner":0.12,"paddingOuter":0.08},"axis":{"title":null,"labelExpr":"datum.value == 'NCD' ? ['BMAd-', 'Nr3c1⁺/⁺ NCD'] : datum.value == 'CRwt' ? ['BMAd-', 'Nr3c1⁺/⁺ CR'] : ['BMAd-', 'Nr3c1⁻/⁻ CR']"}},
     "y":{"field":"v","type":"quantitative","title":"Total Volume (mm³)","scale":{"domain":[0,2.5]},"axis":{"values":[0,0.5,1,1.5,2,2.5],"format":".1f"}}},
    "layer":[
     {"data":{"name":"bars"},"transform":[{"filter":"datum.p=='e1b'"}],"mark":{"type":"bar","stroke":"black","strokeWidth":0.8},"encoding":{"fill":{"field":"g","type":"nominal","scale":{"domain":["NCD","CRwt","CRko"],"range":["#ffffff","#ffd67a","#7b7bf6"]},"legend":null}}},
     {"data":{"name":"pts"},"transform":[{"filter":"datum.p=='e1b'"}],"mark":{"type":"circle","size":3.5,"color":"black","opacity":1},"encoding":{"xOffset":{"field":"r","type":"nominal","scale":{"paddingOuter":1}}}},
     {"data":{"name":"bars"},"transform":[{"filter":"datum.p=='e1b'"}],"mark":{"type":"errorbar","ticks":true,"size":14,"thickness":0.8,"color":"black"},"encoding":{"yError":{"field":"e"}}}
    ]},
   {"width":97,"height":66,"view":{"fill":"#d6e9f6"},
    "encoding":{"x":{"field":"g","type":"nominal","scale":{"domain":["NCD","CRwt","CRko"],"paddingInner":0.12,"paddingOuter":0.08},"axis":{"title":null,"labelExpr":"datum.value == 'NCD' ? ['BMAd-', 'Nr3c1⁺/⁺ NCD'] : datum.value == 'CRwt' ? ['BMAd-', 'Nr3c1⁺/⁺ CR'] : ['BMAd-', 'Nr3c1⁻/⁻ CR']"}},
     "y":{"field":"v","type":"quantitative","title":"Tb. Number (#/mm³)","scale":{"domain":[0,8]},"axis":{"values":[0,2,4,6,8],"format":"d"}}},
    "layer":[
     {"data":{"name":"bars"},"transform":[{"filter":"datum.p=='e2b'"}],"mark":{"type":"bar","stroke":"black","strokeWidth":0.8},"encoding":{"fill":{"field":"g","type":"nominal","scale":{"domain":["NCD","CRwt","CRko"],"range":["#ffffff","#ffd67a","#7b7bf6"]},"legend":null}}},
     {"data":{"name":"pts"},"transform":[{"filter":"datum.p=='e2b'"}],"mark":{"type":"circle","size":3.5,"color":"black","opacity":1},"encoding":{"xOffset":{"field":"r","type":"nominal","scale":{"paddingOuter":1}}}},
     {"data":{"name":"bars"},"transform":[{"filter":"datum.p=='e2b'"}],"mark":{"type":"errorbar","ticks":true,"size":14,"thickness":0.8,"color":"black"},"encoding":{"yError":{"field":"e"}}}
    ]},
   {"width":98,"height":66,"view":{"fill":"#f7dfd4"},
    "encoding":{"x":{"field":"g","type":"nominal","scale":{"domain":["NCD","CRwt","CRko"],"paddingInner":0.12,"paddingOuter":0.08},"axis":{"title":null,"labelExpr":"datum.value == 'NCD' ? ['BMAd-', 'Nr3c1⁺/⁺ NCD'] : datum.value == 'CRwt' ? ['BMAd-', 'Nr3c1⁺/⁺ CR'] : ['BMAd-', 'Nr3c1⁻/⁻ CR']"}},
     "y":{"field":"v","type":"quantitative","title":"Total Volume (mm³)","scale":{"domain":[0,0.6]},"axis":{"values":[0,0.2,0.4,0.6],"format":".1f"}}},
    "layer":[
     {"data":{"name":"bars"},"transform":[{"filter":"datum.p=='fb'"}],"mark":{"type":"bar","stroke":"black","strokeWidth":0.8},"encoding":{"fill":{"field":"g","type":"nominal","scale":{"domain":["NCD","CRwt","CRko"],"range":["#ffffff","#ffd67a","#7b7bf6"]},"legend":null}}},
     {"data":{"name":"pts"},"transform":[{"filter":"datum.p=='fb'"}],"mark":{"type":"circle","size":3.5,"color":"black","opacity":1},"encoding":{"xOffset":{"field":"r","type":"nominal","scale":{"paddingOuter":1}}}},
     {"data":{"name":"bars"},"transform":[{"filter":"datum.p=='fb'"}],"mark":{"type":"errorbar","ticks":true,"size":14,"thickness":0.8,"color":"black"},"encoding":{"yError":{"field":"e"}}}
    ]},
   {"width":99,"height":66,"view":{"fill":"#f9f0d4"},
    "encoding":{"x":{"field":"g","type":"nominal","scale":{"domain":["NCD","CRwt","CRko"],"paddingInner":0.12,"paddingOuter":0.08},"axis":{"title":null,"labelExpr":"datum.value == 'NCD' ? ['BMAd-', 'Nr3c1⁺/⁺ NCD'] : datum.value == 'CRwt' ? ['BMAd-', 'Nr3c1⁺/⁺ CR'] : ['BMAd-', 'Nr3c1⁻/⁻ CR']"}},
     "y":{"field":"v","type":"quantitative","title":"Total Volume (mm³)","scale":{"domain":[0,8]},"axis":{"values":[0,2,4,6,8],"format":"d"}}},
    "layer":[
     {"data":{"name":"bars"},"transform":[{"filter":"datum.p=='gb'"}],"mark":{"type":"bar","stroke":"black","strokeWidth":0.8},"encoding":{"fill":{"field":"g","type":"nominal","scale":{"domain":["NCD","CRwt","CRko"],"range":["#ffffff","#ffd67a","#7b7bf6"]},"legend":null}}},
     {"data":{"name":"pts"},"transform":[{"filter":"datum.p=='gb'"}],"mark":{"type":"circle","size":3.5,"color":"black","opacity":1},"encoding":{"xOffset":{"field":"r","type":"nominal","scale":{"paddingOuter":1}}}},
     {"data":{"name":"bars"},"transform":[{"filter":"datum.p=='gb'"}],"mark":{"type":"errorbar","ticks":true,"size":14,"thickness":0.8,"color":"black"},"encoding":{"yError":{"field":"e"}}}
    ]}
  ],"spacing":21,"bounds":"flush"},
  {"hconcat":[
   {"width":97,"height":68,"view":{"fill":"#d6e9f6"},
    "encoding":{"x":{"field":"g","type":"nominal","scale":{"domain":["NCD","CRwt","CRko"],"paddingInner":0.12,"paddingOuter":0.08},"axis":{"title":null,"labelExpr":"datum.value == 'NCD' ? ['BMAd-', 'Nr3c1⁺/⁺ NCD'] : datum.value == 'CRwt' ? ['BMAd-', 'Nr3c1⁺/⁺ CR'] : ['BMAd-', 'Nr3c1⁻/⁻ CR']"}},
     "y":{"field":"v","type":"quantitative","title":"Tb. BV/TV (%)","scale":{"domain":[0,40]},"axis":{"values":[0,10,20,30,40],"format":"d"}}},
    "layer":[
     {"data":{"name":"bars"},"transform":[{"filter":"datum.p=='e1c'"}],"mark":{"type":"bar","stroke":"black","strokeWidth":0.8},"encoding":{"fill":{"field":"g","type":"nominal","scale":{"domain":["NCD","CRwt","CRko"],"range":["#ffffff","#ffd67a","#7b7bf6"]},"legend":null}}},
     {"data":{"name":"pts"},"transform":[{"filter":"datum.p=='e1c'"}],"mark":{"type":"circle","size":3.5,"color":"black","opacity":1},"encoding":{"xOffset":{"field":"r","type":"nominal","scale":{"paddingOuter":1}}}},
     {"data":{"name":"bars"},"transform":[{"filter":"datum.p=='e1c'"}],"mark":{"type":"errorbar","ticks":true,"size":14,"thickness":0.8,"color":"black"},"encoding":{"yError":{"field":"e"}}}
    ]},
   {"width":97,"height":68,"view":{"fill":"#d6e9f6"},
    "encoding":{"x":{"field":"g","type":"nominal","scale":{"domain":["NCD","CRwt","CRko"],"paddingInner":0.12,"paddingOuter":0.08},"axis":{"title":null,"labelExpr":"datum.value == 'NCD' ? ['BMAd-', 'Nr3c1⁺/⁺ NCD'] : datum.value == 'CRwt' ? ['BMAd-', 'Nr3c1⁺/⁺ CR'] : ['BMAd-', 'Nr3c1⁻/⁻ CR']"}},
     "y":{"field":"v","type":"quantitative","title":"Tb. Thickness (mm)","scale":{"domain":[0,0.08]},"axis":{"values":[0,0.02,0.04,0.06,0.08],"format":".2f"}}},
    "layer":[
     {"data":{"name":"bars"},"transform":[{"filter":"datum.p=='e2c'"}],"mark":{"type":"bar","stroke":"black","strokeWidth":0.8},"encoding":{"fill":{"field":"g","type":"nominal","scale":{"domain":["NCD","CRwt","CRko"],"range":["#ffffff","#ffd67a","#7b7bf6"]},"legend":null}}},
     {"data":{"name":"pts"},"transform":[{"filter":"datum.p=='e2c'"}],"mark":{"type":"circle","size":3.5,"color":"black","opacity":1},"encoding":{"xOffset":{"field":"r","type":"nominal","scale":{"paddingOuter":1}}}},
     {"data":{"name":"bars"},"transform":[{"filter":"datum.p=='e2c'"}],"mark":{"type":"errorbar","ticks":true,"size":14,"thickness":0.8,"color":"black"},"encoding":{"yError":{"field":"e"}}},
     {"data":{"name":"br"},"transform":[{"filter":"datum.p=='e2c'"}],"mark":{"type":"line","color":"black","strokeWidth":0.8},"encoding":{"detail":{"field":"k","type":"nominal"},"order":{"field":"o","type":"quantitative"}}},
     {"data":{"name":"st"},"transform":[{"filter":"datum.p=='e2c'"}],"mark":{"type":"text","text":"*","fontSize":7,"fontWeight":"bold","dx":16}}
    ]},
   {"width":98,"height":68,"view":{"fill":"#f7dfd4"},
    "encoding":{"x":{"field":"g","type":"nominal","scale":{"domain":["NCD","CRwt","CRko"],"paddingInner":0.12,"paddingOuter":0.08},"axis":{"title":null,"labelExpr":"datum.value == 'NCD' ? ['BMAd-', 'Nr3c1⁺/⁺ NCD'] : datum.value == 'CRwt' ? ['BMAd-', 'Nr3c1⁺/⁺ CR'] : ['BMAd-', 'Nr3c1⁻/⁻ CR']"}},
     "y":{"field":"v","type":"quantitative","title":"M. Ct. BVF (%)","scale":{"domain":[0,80]},"axis":{"values":[0,20,40,60,80],"format":"d"}}},
    "layer":[
     {"data":{"name":"bars"},"transform":[{"filter":"datum.p=='fc'"}],"mark":{"type":"bar","stroke":"black","strokeWidth":0.8},"encoding":{"fill":{"field":"g","type":"nominal","scale":{"domain":["NCD","CRwt","CRko"],"range":["#ffffff","#ffd67a","#7b7bf6"]},"legend":null}}},
     {"data":{"name":"pts"},"transform":[{"filter":"datum.p=='fc'"}],"mark":{"type":"circle","size":3.5,"color":"black","opacity":1},"encoding":{"xOffset":{"field":"r","type":"nominal","scale":{"paddingOuter":1}}}},
     {"data":{"name":"bars"},"transform":[{"filter":"datum.p=='fc'"}],"mark":{"type":"errorbar","ticks":true,"size":14,"thickness":0.8,"color":"black"},"encoding":{"yError":{"field":"e"}}}
    ]},
   {"width":99,"height":68,"view":{"fill":"#f9f0d4"},
    "encoding":{"x":{"field":"g","type":"nominal","scale":{"domain":["NCD","CRwt","CRko"],"paddingInner":0.12,"paddingOuter":0.08},"axis":{"title":null,"labelExpr":"datum.value == 'NCD' ? ['BMAd-', 'Nr3c1⁺/⁺ NCD'] : datum.value == 'CRwt' ? ['BMAd-', 'Nr3c1⁺/⁺ CR'] : ['BMAd-', 'Nr3c1⁻/⁻ CR']"}},
     "y":{"field":"v","type":"quantitative","title":"Distal BV/TV (%)","scale":{"domain":[0,80]},"axis":{"values":[0,20,40,60,80],"format":"d"}}},
    "layer":[
     {"data":{"name":"bars"},"transform":[{"filter":"datum.p=='gc'"}],"mark":{"type":"bar","stroke":"black","strokeWidth":0.8},"encoding":{"fill":{"field":"g","type":"nominal","scale":{"domain":["NCD","CRwt","CRko"],"range":["#ffffff","#ffd67a","#7b7bf6"]},"legend":null}}},
     {"data":{"name":"pts"},"transform":[{"filter":"datum.p=='gc'"}],"mark":{"type":"circle","size":3.5,"color":"black","opacity":1},"encoding":{"xOffset":{"field":"r","type":"nominal","scale":{"paddingOuter":1}}}},
     {"data":{"name":"bars"},"transform":[{"filter":"datum.p=='gc'"}],"mark":{"type":"errorbar","ticks":true,"size":14,"thickness":0.8,"color":"black"},"encoding":{"yError":{"field":"e"}}}
    ]}
  ],"spacing":21,"bounds":"flush"},
  {"hconcat":[
   {"width":97,"height":66,"view":{"fill":"#d6e9f6"},
    "encoding":{"x":{"field":"g","type":"nominal","scale":{"domain":["NCD","CRwt","CRko"],"paddingInner":0.12,"paddingOuter":0.08},"axis":{"title":null,"labelExpr":"datum.value == 'NCD' ? ['BMAd-', 'Nr3c1⁺/⁺ NCD'] : datum.value == 'CRwt' ? ['BMAd-', 'Nr3c1⁺/⁺ CR'] : ['BMAd-', 'Nr3c1⁻/⁻ CR']"}},
     "y":{"field":"v","type":"quantitative","title":"BMD (mg HA/cm³)","scale":{"domain":[0,300]},"axis":{"values":[0,100,200,300],"format":"d"}}},
    "layer":[
     {"data":{"name":"bars"},"transform":[{"filter":"datum.p=='e1d'"}],"mark":{"type":"bar","stroke":"black","strokeWidth":0.8},"encoding":{"fill":{"field":"g","type":"nominal","scale":{"domain":["NCD","CRwt","CRko"],"range":["#ffffff","#ffd67a","#7b7bf6"]},"legend":null}}},
     {"data":{"name":"pts"},"transform":[{"filter":"datum.p=='e1d'"}],"mark":{"type":"circle","size":3.5,"color":"black","opacity":1},"encoding":{"xOffset":{"field":"r","type":"nominal","scale":{"paddingOuter":1}}}},
     {"data":{"name":"bars"},"transform":[{"filter":"datum.p=='e1d'"}],"mark":{"type":"errorbar","ticks":true,"size":14,"thickness":0.8,"color":"black"},"encoding":{"yError":{"field":"e"}}}
    ]},
   {"width":97,"height":66,"view":{"fill":"#d6e9f6"},
    "encoding":{"x":{"field":"g","type":"nominal","scale":{"domain":["NCD","CRwt","CRko"],"paddingInner":0.12,"paddingOuter":0.08},"axis":{"title":null,"labelExpr":"datum.value == 'NCD' ? ['BMAd-', 'Nr3c1⁺/⁺ NCD'] : datum.value == 'CRwt' ? ['BMAd-', 'Nr3c1⁺/⁺ CR'] : ['BMAd-', 'Nr3c1⁻/⁻ CR']"}},
     "y":{"field":"v","type":"quantitative","title":"Tb. Spacing (mm)","scale":{"domain":[0,0.25]},"axis":{"values":[0,0.05,0.1,0.15,0.2,0.25],"format":".2f"}}},
    "layer":[
     {"data":{"name":"bars"},"transform":[{"filter":"datum.p=='e2d'"}],"mark":{"type":"bar","stroke":"black","strokeWidth":0.8},"encoding":{"fill":{"field":"g","type":"nominal","scale":{"domain":["NCD","CRwt","CRko"],"range":["#ffffff","#ffd67a","#7b7bf6"]},"legend":null}}},
     {"data":{"name":"pts"},"transform":[{"filter":"datum.p=='e2d'"}],"mark":{"type":"circle","size":3.5,"color":"black","opacity":1},"encoding":{"xOffset":{"field":"r","type":"nominal","scale":{"paddingOuter":1}}}},
     {"data":{"name":"bars"},"transform":[{"filter":"datum.p=='e2d'"}],"mark":{"type":"errorbar","ticks":true,"size":14,"thickness":0.8,"color":"black"},"encoding":{"yError":{"field":"e"}}}
    ]},
   {"width":98,"height":66,"view":{"fill":"#f7dfd4"},
    "encoding":{"x":{"field":"g","type":"nominal","scale":{"domain":["NCD","CRwt","CRko"],"paddingInner":0.12,"paddingOuter":0.08},"axis":{"title":null,"labelExpr":"datum.value == 'NCD' ? ['BMAd-', 'Nr3c1⁺/⁺ NCD'] : datum.value == 'CRwt' ? ['BMAd-', 'Nr3c1⁺/⁺ CR'] : ['BMAd-', 'Nr3c1⁻/⁻ CR']"}},
     "y":{"field":"v","type":"quantitative","title":"BMD (mg HA/cm³)","scale":{"domain":[0,800]},"axis":{"values":[0,200,400,600,800],"format":"d"}}},
    "layer":[
     {"data":{"name":"bars"},"transform":[{"filter":"datum.p=='fd'"}],"mark":{"type":"bar","stroke":"black","strokeWidth":0.8},"encoding":{"fill":{"field":"g","type":"nominal","scale":{"domain":["NCD","CRwt","CRko"],"range":["#ffffff","#ffd67a","#7b7bf6"]},"legend":null}}},
     {"data":{"name":"pts"},"transform":[{"filter":"datum.p=='fd'"}],"mark":{"type":"circle","size":3.5,"color":"black","opacity":1},"encoding":{"xOffset":{"field":"r","type":"nominal","scale":{"paddingOuter":1}}}},
     {"data":{"name":"bars"},"transform":[{"filter":"datum.p=='fd'"}],"mark":{"type":"errorbar","ticks":true,"size":14,"thickness":0.8,"color":"black"},"encoding":{"yError":{"field":"e"}}}
    ]},
   {"width":99,"height":66,"view":{"fill":"#f9f0d4"},
    "encoding":{"x":{"field":"g","type":"nominal","scale":{"domain":["NCD","CRwt","CRko"],"paddingInner":0.12,"paddingOuter":0.08},"axis":{"title":null,"labelExpr":"datum.value == 'NCD' ? ['BMAd-', 'Nr3c1⁺/⁺ NCD'] : datum.value == 'CRwt' ? ['BMAd-', 'Nr3c1⁺/⁺ CR'] : ['BMAd-', 'Nr3c1⁻/⁻ CR']"}},
     "y":{"field":"v","type":"quantitative","title":"BMD (mg HA/cm³)","scale":{"domain":[0,1000]},"axis":{"values":[0,200,400,600,800,1000],"format":"d"}}},
    "layer":[
     {"data":{"name":"bars"},"transform":[{"filter":"datum.p=='gd'"}],"mark":{"type":"bar","stroke":"black","strokeWidth":0.8},"encoding":{"fill":{"field":"g","type":"nominal","scale":{"domain":["NCD","CRwt","CRko"],"range":["#ffffff","#ffd67a","#7b7bf6"]},"legend":null}}},
     {"data":{"name":"pts"},"transform":[{"filter":"datum.p=='gd'"}],"mark":{"type":"circle","size":3.5,"color":"black","opacity":1},"encoding":{"xOffset":{"field":"r","type":"nominal","scale":{"paddingOuter":1}}}},
     {"data":{"name":"bars"},"transform":[{"filter":"datum.p=='gd'"}],"mark":{"type":"errorbar","ticks":true,"size":14,"thickness":0.8,"color":"black"},"encoding":{"yError":{"field":"e"}}}
    ]}
  ],"spacing":21,"bounds":"flush"}
 ],"spacing":0}
],
"spacing":15
}
